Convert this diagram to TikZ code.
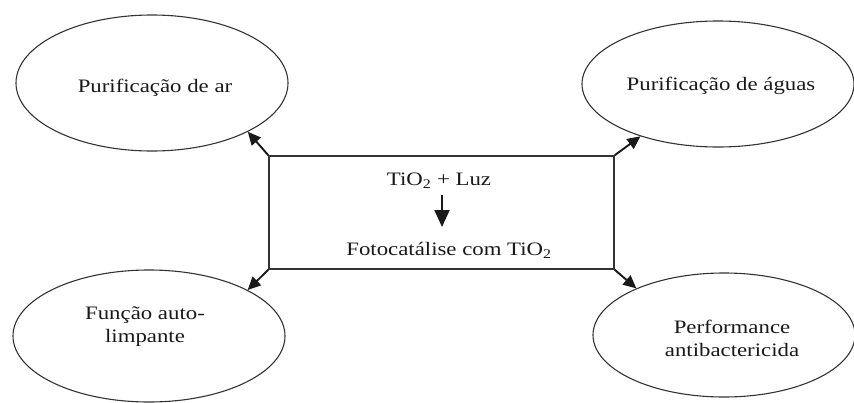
\documentclass[tikz,border=0pt]{standalone}
\usepackage{fontspec}
\setmainfont{Liberation Serif}[FakeStretch=1.2]
\usetikzlibrary{arrows.meta,shapes.geometric}
\begin{document}
\begin{tikzpicture}[x=1pt,y=-1pt,
  ell/.style={draw=black!80, line width=1.1pt, ellipse, inner sep=0pt},
  lbl/.style={text=black!90, font=\fontsize{19}{23}\selectfont, align=center, inner sep=0pt},
  arr/.style={draw=black!90, line width=1.9pt, -{Triangle[length=13pt,width=12pt]}},
  boxst/.style={draw=black!80, line width=1.5pt, inner sep=0pt}
]
\useasboundingbox (0,0) rectangle (854,402);
% ellipses
\node[ell, minimum width=272pt, minimum height=136pt] (air) at (152,83) {};
\node[ell, minimum width=272pt, minimum height=126pt] (water) at (718,84) {};
\node[ell, minimum width=272pt, minimum height=132pt] (self) at (149,336) {};
\node[ell, minimum width=262pt, minimum height=124pt] (anti) at (724,335) {};
% labels
\node[lbl] (tair) at (155,88) {Purificação de ar};
\node[lbl] (twater) at (721,86) {Purificação de águas};
\node[lbl] (tself) at (145,327) {Função auto-\\limpante};
\node[lbl] (tanti) at (732,338) {Performance\\antibactericida};
% central box
\node[boxst, minimum width=345pt, minimum height=113pt] (box) at (441.5,212.5) {};
\node[lbl] (tio) at (439,181) {TiO\textsubscript{2} + Luz};
\node[lbl] (foto) at (449,250) {Fotocatálise com TiO\textsubscript{2}};
\coordinate (a1) at (442,195);
\coordinate (a2) at (442,227);
\draw[draw=black!90, line width=2pt, -{Triangle[length=17pt,width=15pt]}] (a1) -- (a2);
% connectors
\draw[arr] (box.north west) -- (air.-27.5);
\draw[arr] (box.north east) -- (water.214);
\draw[arr] (box.south west) -- (self.25);
\draw[arr] (box.south east) -- (anti.152);
\end{tikzpicture}
\end{document}
